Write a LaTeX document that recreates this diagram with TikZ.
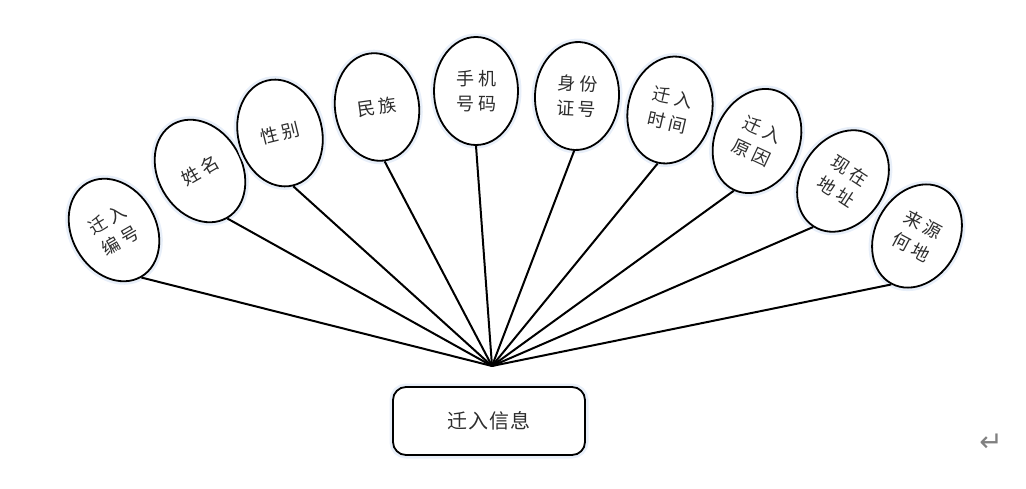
\documentclass[tikz,border=0pt]{standalone}
\usepackage{fontspec}
\newfontfamily\cjk{Noto Sans CJK SC}
\newfontfamily\dejavu{DejaVu Sans}
\usetikzlibrary{shapes.geometric}
\definecolor{glow}{RGB}{232,239,249}
\definecolor{txt}{RGB}{45,45,45}
\newcommand{\gapk}{\kern4pt}
\tikzset{
  attr/.style={ellipse, draw=black, line width=1.8pt, fill=white,
    minimum width=84pt, minimum height=108pt, inner sep=0pt, align=center,
    font=\cjk\fontsize{18}{25}\selectfont, text=txt,
    preaction={draw=glow, line width=7pt}},
  link/.style={line width=2pt},
  mainbox/.style={draw=black, line width=1.8pt, rounded corners=13pt, fill=white,
    minimum width=192pt, minimum height=68pt, inner sep=0pt,
    font=\cjk\fontsize{20}{20}\selectfont, text=txt,
    preaction={draw=glow, line width=7pt}},
}
\begin{document}
\begin{tikzpicture}[x=1pt,y=-1pt]
\useasboundingbox (0,0) rectangle (1026,489);
\coordinate (hub) at (492,366);
\node[mainbox] (box) at (489,421) {迁\kern1pt 入\kern1pt 信\kern1pt 息};
\node[attr, rotate=30] (e1) at (114,230) {迁\gapk 入\\编\gapk 号};
\node[attr, rotate=30] (e2) at (200,171) {姓\gapk 名};
\node[attr, rotate=14] (e3) at (280,133) {性\gapk 别};
\node[attr, rotate=8] (e4) at (377,107) {民\gapk 族};
\node[attr, rotate=0] (e5) at (476,91) {手\gapk 机\\号\gapk 码};
\node[attr, rotate=-3] (e6) at (577,96) {身\gapk 份\\证\gapk 号};
\node[attr, rotate=-13] (e7) at (670,110) {迁\gapk 入\\时\gapk 间};
\node[attr, rotate=-25] (e8) at (757,141) {迁\gapk 入\\原\gapk 因};
\node[attr, rotate=-33] (e9) at (843,181) {现\gapk 在\\地\gapk 址};
\node[attr, rotate=-28] (e10) at (917,236) {来\gapk 源\\何\gapk 地};
\foreach \i in {1,...,10} {\draw[link] (hub) -- (e\i.south);}
\node[text=gray, font=\dejavu\fontsize{28}{28}\selectfont] (ret) at (991,443) {↵};
\end{tikzpicture}
\end{document}
